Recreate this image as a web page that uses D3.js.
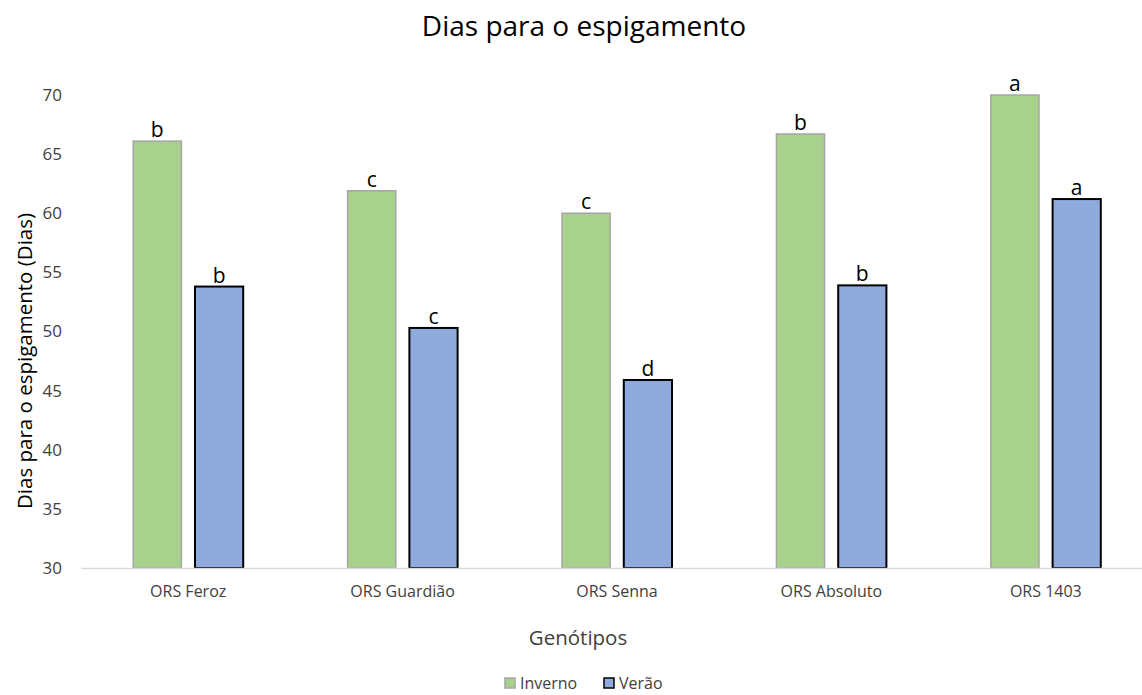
<!DOCTYPE html>
<html>
<head>
<meta charset="utf-8">
<script src="https://cdn.jsdelivr.net/npm/d3@7"></script>
<style>
body { margin: 0; background: #fff; }
text { font-family: "Open Sans", "Noto Sans", sans-serif; fill: #000; }
.tick text { fill: #404040; }
</style>
</head>
<body>
<div id="chart"></div>
<script>

var genotipos = ["ORS Feroz", "ORS Guardião", "ORS Senna", "ORS Absoluto", "ORS 1403"];
var series = ["Inverno", "Verão"];
var inverno = [66.1, 61.9, 60.0, 66.7, 70.0];
var verao = [53.8, 50.3, 45.9, 53.9, 61.2];
var letrasInverno = ["b", "c", "c", "b", "a"];
var letrasVerao = ["b", "c", "d", "b", "a"];
var yTicks = [30, 35, 40, 45, 50, 55, 60, 65, 70];

var width = 1142, height = 695;
var margin = {top: 95, right: -11, bottom: 127, left: 81};

var svg = d3.select("#chart")
  .append("svg")
  .attr("width", width)
  .attr("height", height);

var g = svg.append("g")
  .attr("transform", "translate(" + margin.left + "," + margin.top + ")");

var w = width - margin.left - margin.right;
var h = height - margin.top - margin.bottom;

var x = d3.scaleBand().domain(genotipos).range([0, w]);
var x1 = d3.scaleBand().domain(series).range([x.bandwidth() / 2 - 55, x.bandwidth() / 2 + 55]).paddingInner(0.22);
var y = d3.scaleLinear().domain([30, 70]).range([h, 0]);

var color = {"Inverno": "#a9d18e", "Verão": "#8faadc"};
var stroke = {"Inverno": "#a6a6a6", "Verão": "#000000"};

var rows = genotipos.map(function(d, i) {
  return [
    {cat: d, s: "Inverno", v: inverno[i], l: letrasInverno[i]},
    {cat: d, s: "Verão", v: verao[i], l: letrasVerao[i]}
  ];
});

// y axis (labels only)
g.append("g")
  .attr("class", "axis axis--y")
  .call(d3.axisLeft(y).tickValues(yTicks).tickSize(0).tickPadding(19))
  .call(function(a) { a.select(".domain").remove(); })
  .selectAll("text").style("font-size", "17px");

var grp = g.selectAll(".grp")
  .data(rows)
  .enter()
  .append("g")
  .attr("transform", function(d) { return "translate(" + x(d[0].cat) + ",0)"; });

grp.selectAll("rect")
  .data(function(d) { return d; })
  .enter()
  .append("rect")
  .attr("x", function(d) { return x1(d.s); })
  .attr("y", function(d) { return y(d.v); })
  .attr("width", x1.bandwidth())
  .attr("height", function(d) { return h - y(d.v); })
  .attr("fill", function(d) { return color[d.s]; })
  .attr("stroke", function(d) { return stroke[d.s]; })
  .attr("stroke-width", function(d) { return d.s == "Verão" ? 2 : 1.5; });

grp.selectAll(".letra")
  .data(function(d) { return d; })
  .enter()
  .append("text")
  .attr("class", "letra")
  .attr("x", function(d) { return x1(d.s) + x1.bandwidth() / 2; })
  .attr("y", function(d) { return y(d.v) - 4; })
  .style("text-anchor", "middle")
  .style("font-size", "21px")
  .text(function(d) { return d.l; });

// x axis
g.append("g")
  .attr("class", "axis axis--x")
  .attr("transform", "translate(0," + h + ")")
  .call(d3.axisBottom(x).tickSize(0).tickPadding(18))
  .call(function(a) { a.select(".domain").attr("stroke", "#d9d9d9").attr("stroke-width", 1.5); })
  .selectAll("text").style("font-size", "16px");

svg.append("text")
  .attr("x", 584)
  .attr("y", 36)
  .style("text-anchor", "middle")
  .style("font-size", "28px")
  .text("Dias para o espigamento");

svg.append("text")
  .attr("x", 578)
  .attr("y", 645)
  .style("text-anchor", "middle")
  .style("font-size", "20.5px")
  .style("fill", "#404040")
  .text("Genótipos");

svg.append("text")
  .attr("transform", "rotate(-90)")
  .attr("x", -361)
  .attr("y", 32)
  .style("text-anchor", "middle")
  .style("font-size", "20.5px")
  .text("Dias para o espigamento (Dias)");

var legX = [505, 604];
var leg = svg.selectAll(".leg")
  .data(series)
  .enter()
  .append("g")
  .attr("transform", function(d, i) { return "translate(" + legX[i] + ",678)"; });

leg.append("rect")
  .attr("width", 10)
  .attr("height", 10)
  .attr("fill", function(d) { return color[d]; })
  .attr("stroke", function(d) { return stroke[d]; })
  .attr("stroke-width", 1.5);

leg.append("text")
  .attr("x", 15)
  .attr("y", 11)
  .style("font-size", "16px")
  .style("fill", "#404040")
  .text(function(d) { return d; });

</script>
</body>
</html>
